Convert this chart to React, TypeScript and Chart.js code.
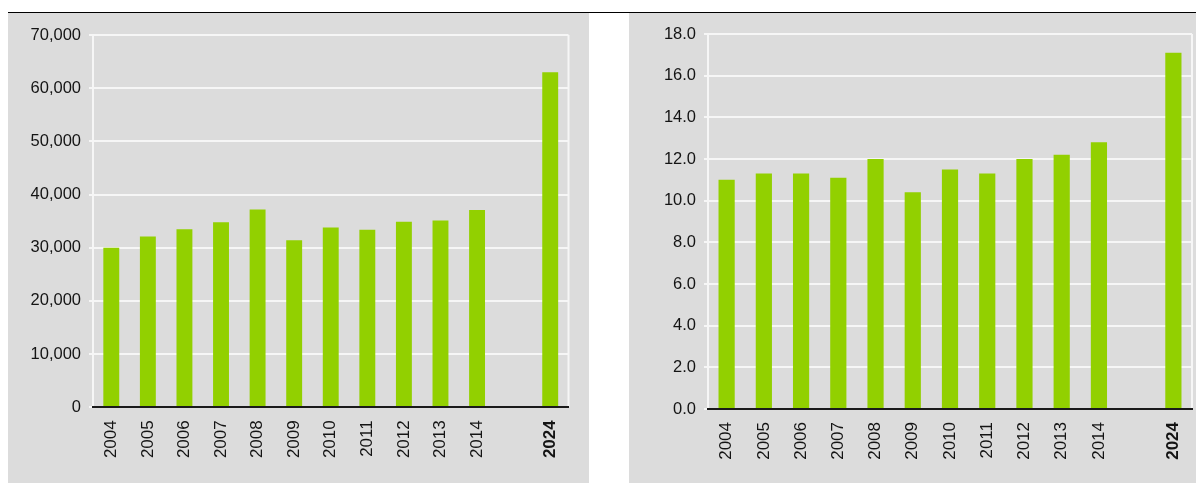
import React, { useEffect, useRef } from "react";
import { Chart, registerables } from "chart.js";

Chart.register(...registerables);

const categories = ["2004", "2005", "2006", "2007", "2008", "2009", "2010", "2011", "2012", "2013", "2014", "", "2024"];
const leftValues = [30000, 32100, 33500, 34800, 37200, 31400, 33800, 33400, 34900, 35100, 37100, null, 63000];
const rightValues = [11.0, 11.3, 11.3, 11.1, 12.0, 10.4, 11.5, 11.3, 12.0, 12.2, 12.8, null, 17.1];

const leftTicks = { min: 0, max: 70000, step: 10000 };
const rightTicks = { min: 0, max: 18, step: 2 };

const GREEN = "#92D000";
const GRAY = "#DCDCDC";
const GRID = "#F6F6F6";
const TEXT = "#141414";
const FONT = "'Liberation Sans', Arial, sans-serif";

type PanelProps = {
  values: (number | null)[];
  ticks: { min: number; max: number; step: number };
  fmt: (v: number) => string;
  width: number;
  height: number;
  yWidth: number;
  padTop: number;
  padRight: number;
  xHeight: number;
};

const rightBorder = {
  id: "rightBorder",
  beforeDatasetsDraw(chart: any) {
    const { ctx, chartArea } = chart;
    ctx.save();
    ctx.strokeStyle = GRID;
    ctx.lineWidth = 2;
    ctx.beginPath();
    ctx.moveTo(chartArea.right, chartArea.top);
    ctx.lineTo(chartArea.right, chartArea.bottom);
    ctx.stroke();
    ctx.restore();
  },
};

function Panel(p: PanelProps) {
  const ref = useRef<HTMLCanvasElement | null>(null);
  useEffect(() => {
    if (!ref.current) return;
    const chart = new Chart(ref.current, {
      type: "bar",
      data: {
        labels: categories,
        datasets: [
          {
            data: p.values as any,
            backgroundColor: GREEN,
            borderWidth: 0,
            barPercentage: 0.435,
            categoryPercentage: 1,
          },
        ],
      },
      plugins: [rightBorder],
      options: {
        responsive: false,
        animation: false,
        devicePixelRatio: 1,
        layout: { padding: { left: 0, top: p.padTop, right: p.padRight, bottom: 0 } },
        plugins: { legend: { display: false }, tooltip: { enabled: false }, title: { display: false } },
        scales: {
          x: {
            offset: true,
            grid: { display: false, drawTicks: false },
            border: { display: true, color: "#1A1A1A", width: 2, z: 1 },
            ticks: {
              autoSkip: false,
              maxRotation: 90,
              minRotation: 90,
              padding: 13,
              color: TEXT,
              font: (ctx: any) => ({
                family: FONT,
                size: 17,
                weight: ctx.tick && ctx.tick.label === "2024" ? "bold" : "normal",
              }),
            },
            afterFit: (s: any) => {
              s.height = p.xHeight;
              s.paddingLeft = 0;
              s.paddingRight = 0;
            },
          },
          y: {
            min: p.ticks.min,
            max: p.ticks.max,
            grid: { color: GRID, lineWidth: 2, drawTicks: true, tickLength: 4 },
            border: { display: true, color: GRID, width: 2 },
            ticks: {
              stepSize: p.ticks.step,
              padding: 8,
              color: TEXT,
              font: { family: FONT, size: 16.5 },
              callback: (v: any) => p.fmt(Number(v)),
            },
            afterFit: (s: any) => {
              s.width = p.yWidth;
            },
          },
        },
      },
    });
    return () => chart.destroy();
  }, []);
  return <canvas ref={ref} width={p.width} height={p.height} style={{ display: "block", width: p.width, height: p.height }} />;
}

export default function App() {
  return (
    <div style={{ position: "fixed", left: 0, top: 0, width: 1196, height: 485, background: "#fff", overflow: "hidden" }}>
      <div style={{ position: "absolute", left: 8, top: 12, width: 1188, height: 1, background: "#000" }} />
      <div style={{ position: "absolute", left: 8, top: 13, width: 581, height: 470, background: GRAY }}>
        <Panel
          values={leftValues}
          ticks={leftTicks}
          fmt={(v) => v.toLocaleString("en-US")}
          width={581}
          height={470}
          yWidth={85}
          padTop={22}
          padRight={20.5}
          xHeight={75.7}
        />
      </div>
      <div style={{ position: "absolute", left: 629, top: 13, width: 567, height: 470, background: GRAY }}>
        <Panel
          values={rightValues}
          ticks={rightTicks}
          fmt={(v) => v.toFixed(1)}
          width={567}
          height={470}
          yWidth={79}
          padTop={21}
          padRight={4}
          xHeight={74}
        />
      </div>
    </div>
  );
}
